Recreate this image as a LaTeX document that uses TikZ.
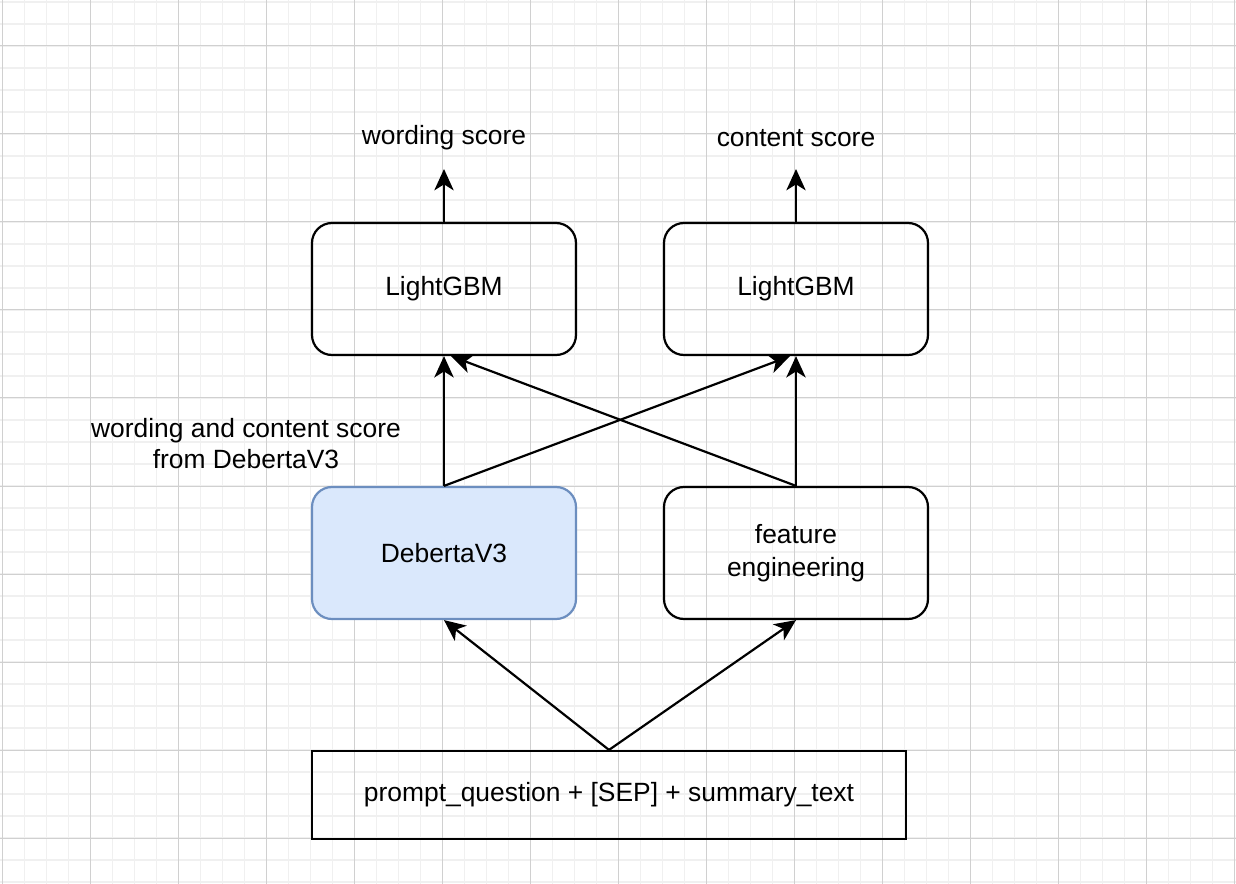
\documentclass[tikz,border=0pt]{standalone}
\usepackage{fontspec}
\setmainfont{Liberation Sans}
\usetikzlibrary{arrows.meta}
\definecolor{gridminor}{HTML}{F0F0F0}
\definecolor{gridmajor}{HTML}{D0D0D0}
\definecolor{debfill}{HTML}{DAE8FC}
\definecolor{debline}{HTML}{6C8EBF}
\tikzset{
every picture/.style={
line width=1.65pt
},
model/.style={draw, rounded corners=15pt, minimum width=198pt, minimum height=99pt, align=center, font=\fontsize{19.8}{24.5}\selectfont},
inputbox/.style={draw, minimum width=445.5pt, minimum height=66pt, font=\fontsize{19.8}{23.25}\selectfont},
caption/.style={align=center, font=\fontsize{19.8}{23.25}\selectfont},
flow/.style={-{Stealth[length=16pt, width=14.5pt, inset=4.5pt]}}
}

\begin{document}
\begin{tikzpicture}[x=0.75pt, y=-0.75pt]
\useasboundingbox (0,0) rectangle (1236,884);
% background grid
\foreach \k in {0,...,56}{
  \draw[gridminor, line width=0.9pt] ({2.5+22*\k},0) -- ({2.5+22*\k},884);
}
\foreach \k in {0,...,40}{
  \draw[gridminor, line width=0.9pt] (0,{2+22*\k}) -- (1236,{2+22*\k});
}
\foreach \k in {0,...,14}{
  \draw[gridmajor, line width=0.75pt] ({2.5+88*\k},0) -- ({2.5+88*\k},884);
}
\foreach \k in {0,...,9}{
  \draw[gridmajor, line width=0.75pt] (0,{46+88*\k}) -- (1236,{46+88*\k});
}

\node[model] (lgbmL) at (444,289) {LightGBM};
\node[model] (lgbmR) at (796,289) {LightGBM};
\node[model, fill=debfill, draw=debline] (deberta) at (444,553) {DebertaV3};
\node[model] (feat) at (796,553) {feature\\engineering};
\node[inputbox] (prompt) at (609,795) {prompt\_question + [SEP] + summary\_text};

\node[caption] (wscore) at (444,138) {wording score};
\node[caption] (cscore) at (796,138) {content score};
\node[caption] (dscore) at (246,443.5) {wording and content score\\from DebertaV3};

\coordinate (wtip) at (444,169);
\coordinate (ctip) at (796,169);

\draw[flow] (lgbmL.north) -- (wtip);
\draw[flow] (lgbmR.north) -- (ctip);

\draw[flow] (deberta.north) -- (lgbmL.south);
\draw[flow] (deberta.north) -- (lgbmR.-95);
\draw[flow] (feat.north) -- (lgbmR.south);
\draw[flow] (feat.north) -- (lgbmL.-84);

\draw[flow] (prompt.north) -- (deberta.south);
\draw[flow] (prompt.north) -- (feat.south);
\end{tikzpicture}
\end{document}
